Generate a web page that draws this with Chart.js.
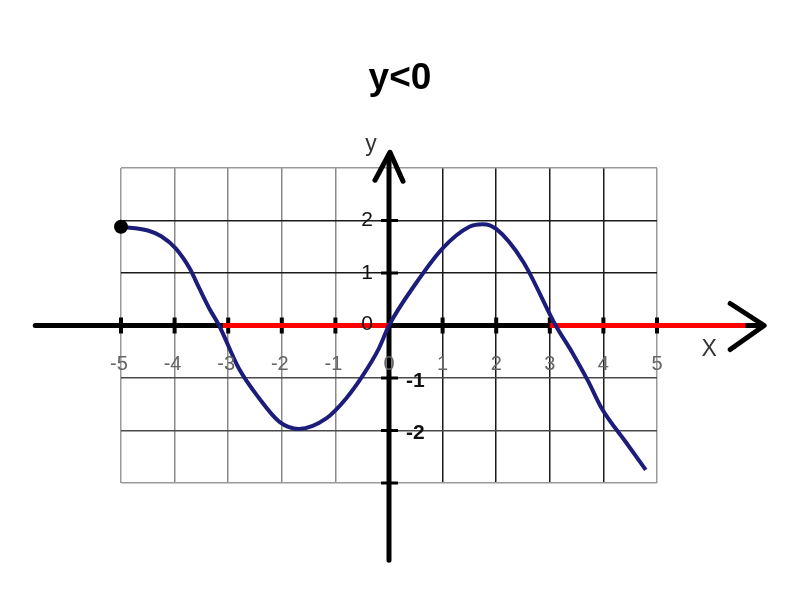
<!DOCTYPE html>
<html>
<head>
<meta charset="utf-8">
<script src="https://cdn.jsdelivr.net/npm/chart.js@4.4.1/dist/chart.umd.min.js"></script>
<style>
  html, body { margin: 0; padding: 0; background: #fff; }
  #wrap { width: 800px; height: 600px; }
</style>
</head>
<body>
<div id="wrap"><canvas id="graph" width="800" height="600"></canvas></div>
<script>
const titleText = 'y<0';

// curve
const curveX = [-5, -4.5, -4.25, -3.98, -3.72, -3.54, -3.35, -3.17, -2.8, -2.42, -2.05, -1.68, -1.17, -0.8, -0.5, -0.19, 0, 0.5, 1, 1.5, 1.75, 2, 2.5, 3.11, 3.41, 3.72, 3.97, 4.41, 4.79];
const curveY = [1.88, 1.81, 1.7, 1.47, 1.09, 0.71, 0.32, 0, -0.82, -1.39, -1.83, -1.97, -1.77, -1.39, -0.97, -0.44, 0, 0.8, 1.47, 1.88, 1.93, 1.84, 1.22, 0, -0.5, -1.07, -1.58, -2.21, -2.75];

// where y < 0 (drawn in red on the x axis)
const negStartX = [-3.1, 3];
const negEndX = [0, 6.65];

const xTicks = [-5, -4, -3, -2, -1, 0, 1, 2, 3, 4, 5];
const yTicksLeft = [2, 1, 0];
const yTicksRight = [-1, -2];
const yTickMarks = [2, 1, -1, -2, -3];

const xAxisFrom = -6.6, xAxisTo = 7.0;
const yAxisFrom = -4.47, yAxisTo = 3.3;

const curvePoints = curveX.map((x, i) => ({ x, y: curveY[i] }));
const negPoints = [];
negStartX.forEach((s, i) => {
  negPoints.push({ x: s, y: 0 }, { x: negEndX[i], y: 0 }, { x: NaN, y: NaN });
});

function gridColor(ctx, axis) {
  const v = ctx.tick ? ctx.tick.value : 0;
  if (axis === 'x') {
    if (v === -5 || v === 5) return '#9a9a9a';
    return v > 0 ? '#1a1a1a' : '#8a8a8a';
  }
  if (v === 3 || v === -3) return '#9a9a9a';
  return v > 0 ? '#1a1a1a' : '#4a4a4a';
}

const axesPlugin = {
  id: 'axesPlugin',
  beforeDatasetsDraw(chart) {
    const c = chart.ctx;
    const xs = chart.scales.x, ys = chart.scales.y;
    const x0 = xs.getPixelForValue(0), y0 = ys.getPixelForValue(0);
    c.save();
    c.strokeStyle = '#000';
    c.lineCap = 'round';
    c.lineJoin = 'round';
    c.lineWidth = 5;
    c.beginPath();
    c.moveTo(xs.getPixelForValue(xAxisFrom), y0);
    c.lineTo(xs.getPixelForValue(xAxisTo) - 4, y0);
    c.moveTo(x0, ys.getPixelForValue(yAxisFrom));
    c.lineTo(x0, ys.getPixelForValue(yAxisTo) + 4);
    c.stroke();
    // arrows
    const ax = xs.getPixelForValue(xAxisTo), ay = ys.getPixelForValue(yAxisTo);
    c.beginPath();
    c.moveTo(ax - 34, y0 - 22);
    c.lineTo(ax, y0);
    c.lineTo(ax - 34, y0 + 24);
    c.moveTo(x0 - 14, ay + 28);
    c.lineTo(x0 + 1, ay);
    c.lineTo(x0 + 14, ay + 29);
    c.stroke();
    // tick marks
    c.lineCap = 'butt';
    c.lineWidth = 4;
    c.beginPath();
    xTicks.forEach(v => {
      if (v === 0) return;
      const px = xs.getPixelForValue(v);
      c.moveTo(px, y0 - 8);
      c.lineTo(px, y0 + 8);
    });
    c.stroke();
    c.lineWidth = 3;
    c.beginPath();
    yTickMarks.forEach(v => {
      const py = ys.getPixelForValue(v);
      c.moveTo(x0 - 8, py);
      c.lineTo(x0 + 9, py);
    });
    c.stroke();
    c.restore();
  },
  afterDraw(chart) {
    const c = chart.ctx;
    const xs = chart.scales.x, ys = chart.scales.y;
    const x0 = xs.getPixelForValue(0), y0 = ys.getPixelForValue(0);
    c.save();
    // title
    c.fillStyle = '#000';
    c.font = 'bold 37px "Liberation Sans", Arial, sans-serif';
    c.textAlign = 'center';
    c.textBaseline = 'alphabetic';
    c.fillText(titleText, 400, 89);
    // x tick labels
    c.font = '20px "Liberation Sans", Arial, sans-serif';
    c.fillStyle = '#666';
    c.textBaseline = 'middle';
    xTicks.forEach(v => {
      c.fillText(String(v), xs.getPixelForValue(v) + (v < 0 ? -2 : 0), y0 + 39);
    });
    // y tick labels
    c.fillStyle = '#111';
    c.font = '21px "Liberation Sans", Arial, sans-serif';
    c.textAlign = 'right';
    yTicksLeft.forEach(v => {
      c.fillText(String(v), x0 - 16, ys.getPixelForValue(v) + (v === 0 ? -1 : 0));
    });
    c.textAlign = 'left';
    c.font = 'bold 21px "Liberation Sans", Arial, sans-serif';
    yTicksRight.forEach(v => {
      c.fillText(String(v), x0 + 17, ys.getPixelForValue(v) + 3);
    });
    // axis names
    c.fillStyle = '#333';
    c.font = '23px "Liberation Sans", Arial, sans-serif';
    c.textAlign = 'center';
    c.fillText('y', x0 - 18, ys.getPixelForValue(yAxisTo) - 8);
    c.fillText('X', xs.getPixelForValue(xAxisTo) - 55, y0 + 24);
    c.restore();
  }
};

new Chart(document.getElementById('graph'), {
  type: 'scatter',
  data: {
    datasets: [
      {
        label: 'f(x)',
        data: curvePoints,
        showLine: true,
        borderColor: '#1c1c7a',
        borderWidth: 4,
        cubicInterpolationMode: 'monotone',
        pointRadius: ctx => (ctx.dataIndex === 0 ? 5 : 0),
        pointBackgroundColor: '#000',
        pointBorderColor: '#000',
        clip: false,
        order: 0
      },
      {
        label: 'y<0',
        data: negPoints,
        showLine: true,
        spanGaps: false,
        borderColor: '#ff0000',
        borderWidth: 5,
        pointRadius: 0,
        clip: false,
        order: 1
      }
    ]
  },
  options: {
    responsive: false,
    animation: false,
    layout: { padding: { left: 121, right: 143, top: 168, bottom: 117 } },
    plugins: {
      legend: { display: false },
      tooltip: { enabled: false }
    },
    scales: {
      x: {
        type: 'linear',
        min: -5,
        max: 5,
        ticks: { display: false, stepSize: 1 },
        border: { display: false },
        grid: { drawTicks: false, lineWidth: 1.5, color: ctx => gridColor(ctx, 'x') }
      },
      y: {
        type: 'linear',
        min: -3,
        max: 3,
        ticks: { display: false, stepSize: 1 },
        border: { display: false },
        grid: { drawTicks: false, lineWidth: 1.5, color: ctx => gridColor(ctx, 'y') }
      }
    }
  },
  plugins: [axesPlugin]
});
</script>
</body>
</html>
